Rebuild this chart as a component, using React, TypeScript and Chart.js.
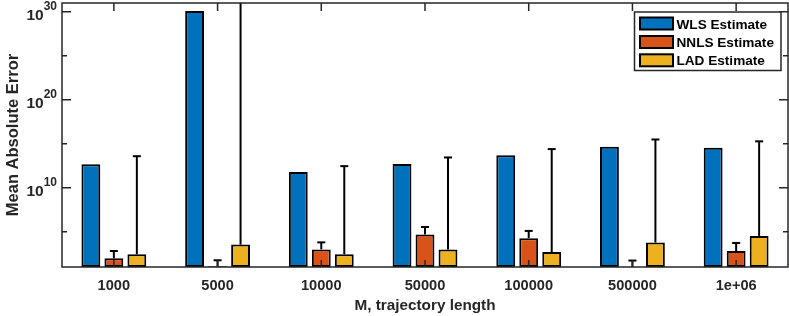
import React, { useEffect, useRef } from 'react';
import { Chart, registerables } from 'chart.js';

Chart.register(...registerables);

const categories = ['1000', '5000', '10000', '50000', '100000', '500000', '1e+06'];
const wlsValues = [4.8e12, 1.2e30, 6.3e11, 5.2e12, 5.1e13, 4.5e14, 3.5e14];
const nnlsValues: (number | null)[] = [98, 12, 1000, 4.9e4, 1.9e4, null, 660];
const nnlsUpper = [660, 58, 6300, 3.5e5, 1.26e5, 54, 5400];
const ladValues = [275, 3550, 275, 955, 513, 6000, 3.4e4];
const ladUpper = [3.9e13, 1e40, 2.9e12, 2.8e13, 2.5e14, 3.1e15, 1.9e15];
const seriesLabels = ['WLS Estimate', 'NNLS Estimate', 'LAD Estimate'];
const seriesColors = ['#0072BD', '#D95319', '#EDB120'];
const yMajorExponents = [10, 20, 30];
const yMinorExponents = [5, 15, 25];
const xTitle = 'M, trajectory length';
const yTitle = 'Mean Absolute Error';

const FONT = '"Liberation Sans", Arial, Helvetica, sans-serif';
const INK = '#262626';
const CAT_PCT = 0.665;
const BAR_PCT = 0.82;

const errorBarPlugin = {
  id: 'errorBars',
  afterDatasetsDraw(chart: any) {
    const { ctx, chartArea } = chart;
    const ys = chart.scales.y;
    const xs = chart.scales.x;
    const uppers: (number[] | null)[] = [null, nnlsUpper, ladUpper];
    const catW = (chartArea.right - chartArea.left) / categories.length;
    const slot = (catW * CAT_PCT) / 3;
    ctx.save();
    ctx.beginPath();
    ctx.rect(chartArea.left, chartArea.top, chartArea.right - chartArea.left, chartArea.bottom - chartArea.top);
    ctx.clip();
    ctx.strokeStyle = '#000';
    ctx.lineWidth = 2;
    uppers.forEach((arr, di) => {
      if (!arr) return;
      const vals = chart.data.datasets[di].data as (number | null)[];
      arr.forEach((u, i) => {
        const x = xs.getPixelForValue(i) + (di - 1) * slot;
        const v = vals[i];
        const yb = v == null ? chartArea.bottom : Math.min(chartArea.bottom, ys.getPixelForValue(v));
        const yt = ys.getPixelForValue(u);
        ctx.beginPath();
        ctx.moveTo(x, yb);
        ctx.lineTo(x, Math.max(yt, chartArea.top - 2));
        ctx.stroke();
        if (yt >= chartArea.top) {
          ctx.beginPath();
          ctx.moveTo(x - 4, yt);
          ctx.lineTo(x + 4, yt);
          ctx.stroke();
        }
      });
    });
    ctx.restore();
  },
};

const axesPlugin = {
  id: 'matlabAxes',
  afterDraw(chart: any) {
    const { ctx, chartArea } = chart;
    const { left, right, top, bottom } = chartArea;
    const ys = chart.scales.y;
    const xs = chart.scales.x;
    ctx.save();
    // frame
    ctx.strokeStyle = INK;
    ctx.lineWidth = 1.5;
    ctx.strokeRect(left, top, right - left, bottom - top);
    // y ticks
    const yTick = (e: number, len: number) => {
      const py = ys.getPixelForValue(Math.pow(10, e));
      ctx.beginPath();
      ctx.moveTo(left, py);
      ctx.lineTo(left + len, py);
      ctx.moveTo(right, py);
      ctx.lineTo(right - len, py);
      ctx.stroke();
    };
    yMajorExponents.forEach((e) => yTick(e, 9));
    yMinorExponents.forEach((e) => yTick(e, 5));
    // x ticks
    categories.forEach((_, i) => {
      const px = xs.getPixelForValue(i);
      ctx.beginPath();
      ctx.moveTo(px, top);
      ctx.lineTo(px, top + 8);
      ctx.moveTo(px, bottom);
      ctx.lineTo(px, bottom - 7);
      ctx.stroke();
    });
    // x labels
    ctx.fillStyle = INK;
    ctx.textAlign = 'center';
    ctx.textBaseline = 'alphabetic';
    ctx.font = `bold 14.6px ${FONT}`;
    categories.forEach((c, i) => {
      ctx.fillText(c, xs.getPixelForValue(i), 289.5);
    });
    // x title
    ctx.font = `bold 15.3px ${FONT}`;
    ctx.fillText(xTitle, (left + right) / 2, 309.5);
    // y labels with superscripts
    yMajorExponents.forEach((e) => {
      const py = ys.getPixelForValue(Math.pow(10, e));
      ctx.font = `bold 15.5px ${FONT}`;
      const wb = ctx.measureText('10').width;
      ctx.font = `bold 12px ${FONT}`;
      const ws = ctx.measureText(String(e)).width;
      const x0 = left - 5 - wb - ws;
      ctx.textAlign = 'left';
      ctx.font = `bold 15.5px ${FONT}`;
      ctx.fillText('10', x0, py + 8.5);
      ctx.font = `bold 12px ${FONT}`;
      ctx.fillText(String(e), x0 + wb, py - 1.5);
    });
    // y title
    ctx.save();
    ctx.translate(13.5, (top + bottom) / 2);
    ctx.rotate(-Math.PI / 2);
    ctx.textAlign = 'center';
    ctx.textBaseline = 'middle';
    ctx.font = `bold 16.5px ${FONT}`;
    ctx.fillText(yTitle, 0, 0);
    ctx.restore();
    // legend
    const lx = 634.5, ly = 12, lw = 146.5, lh = 58.5;
    ctx.fillStyle = '#ffffff';
    ctx.fillRect(lx, ly, lw, lh);
    ctx.strokeStyle = INK;
    ctx.lineWidth = 1.5;
    ctx.strokeRect(lx, ly, lw, lh);
    const rowCenters = [23.5, 42, 60.3];
    seriesLabels.forEach((lab, i) => {
      const cy = rowCenters[i];
      ctx.fillStyle = seriesColors[i];
      ctx.fillRect(640, cy - 6, 33, 12);
      ctx.strokeStyle = '#000';
      ctx.lineWidth = 2;
      ctx.strokeRect(640, cy - 6, 33, 12);
      ctx.fillStyle = '#000';
      ctx.textAlign = 'left';
      ctx.textBaseline = 'alphabetic';
      ctx.font = `bold 13.6px ${FONT}`;
      ctx.fillText(lab, 676.5, cy + 5);
    });
    ctx.restore();
  },
};

export default function App() {
  const canvasRef = useRef<HTMLCanvasElement | null>(null);

  useEffect(() => {
    if (!canvasRef.current) return;
    const datasets = [wlsValues, nnlsValues, ladValues].map((d, i) => ({
      label: seriesLabels[i],
      data: d,
      backgroundColor: seriesColors[i],
      borderColor: '#000000',
      borderWidth: 2,
      borderSkipped: false as const,
      categoryPercentage: CAT_PCT,
      barPercentage: BAR_PCT,
    }));
    const chart = new Chart(canvasRef.current, {
      type: 'bar',
      data: { labels: categories, datasets },
      options: {
        responsive: false,
        animation: false,
        devicePixelRatio: 1,
        layout: { padding: { top: 3, right: 1, left: 0, bottom: 0 } },
        plugins: { legend: { display: false }, tooltip: { enabled: false } },
        scales: {
          x: {
            type: 'category',
            offset: true,
            ticks: { display: false },
            grid: { display: false },
            border: { display: false },
            afterFit: (s: any) => {
              s.height = 49;
            },
          },
          y: {
            type: 'logarithmic',
            min: 10,
            max: 1e31,
            ticks: { display: false },
            grid: { display: false },
            border: { display: false },
            afterFit: (s: any) => {
              s.width = 62;
            },
          },
        },
      },
      plugins: [errorBarPlugin, axesPlugin],
    });
    return () => chart.destroy();
  }, []);

  return (
    <div style={{ position: 'absolute', left: 0, top: 0, width: 789, height: 316, background: '#fff' }}>
      <canvas ref={canvasRef} width={789} height={316} />
    </div>
  );
}
